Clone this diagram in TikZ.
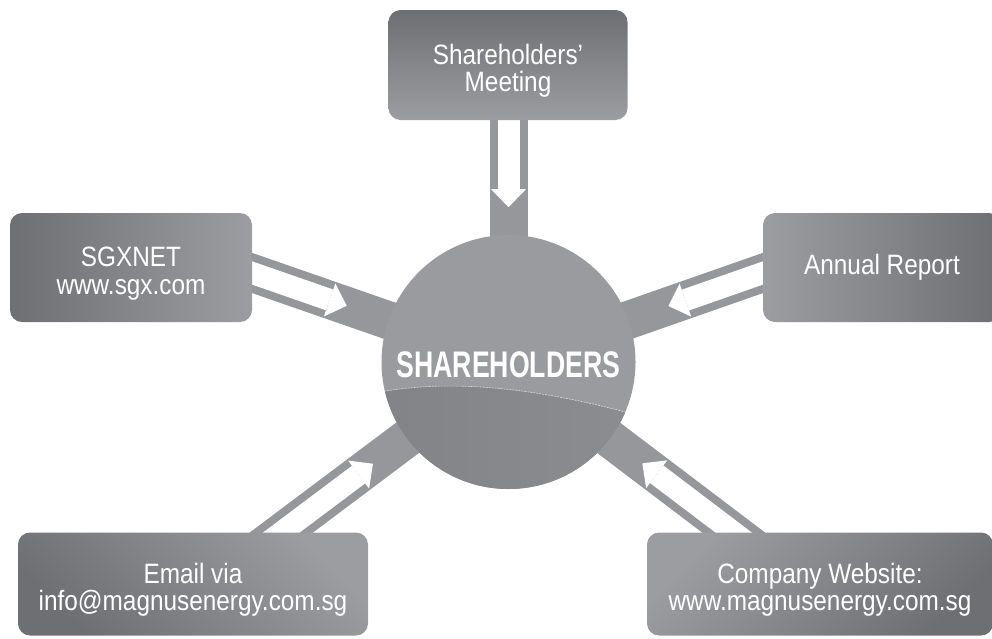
\documentclass[tikz,border=0pt]{standalone}
\usepackage{fontspec}
\setmainfont[FakeStretch=0.87]{Liberation Sans}
\newfontfamily\titlefont[FakeStretch=0.72]{Liberation Sans}
\usetikzlibrary{calc}

\definecolor{boxdark}{HTML}{6E6F73}
\definecolor{boxlight}{HTML}{9C9DA1}
\definecolor{bandgray}{HTML}{96979B}
\definecolor{discup}{HTML}{9A9B9F}
\definecolor{disclow}{HTML}{8C8D91}
\definecolor{disclowdark}{HTML}{828387}

\pgfdeclarelayer{bands}
\pgfdeclarelayer{inner}
\pgfsetlayers{bands,inner,main}

% strut that lowers two-line labels slightly inside their boxes
\newcommand\toplift{\rule{0pt}{32pt}}

\tikzset{
  infobox/.style={rounded corners=12pt, inner sep=0pt, align=center,
    text=white, font=\fontsize{28}{27.5}\selectfont},
  bandline/.style={draw=bandgray, line width=38pt, line cap=butt},
  shaftline/.style={draw=white, line width=22pt, line cap=butt},
}

\begin{document}
\begin{tikzpicture}[x=1pt,y=-1pt]
\useasboundingbox (0,0) rectangle (992,638);
\clip (0,0) rectangle (992,638);

% information channels
\node[infobox, minimum width=239pt, minimum height=110pt,
  top color=boxdark, bottom color=boxlight] (meet) at (508,65)
  {\toplift Shareholders’\\Meeting};
\node[infobox, minimum width=242pt, minimum height=109pt,
  left color=boxdark, right color=boxlight] (sgx) at (131,267.5)
  {\toplift SGXNET\\www.sgx.com};
\node[infobox, minimum width=238pt, minimum height=109pt,
  left color=boxlight, right color=boxdark] (annual) at (882,267.5) {Annual Report};
\node[infobox, minimum width=350pt, minimum height=103pt,
  top color=boxlight, bottom color=boxdark, shading angle=-45] (email) at (193,584)
  {\toplift Email via\\info@magnusenergy.com.sg};
\node[infobox, minimum width=346pt, minimum height=103pt,
  top color=boxlight, bottom color=boxdark, shading angle=45] (web) at (820,584)
  {\toplift Company Website:\\www.magnusenergy.com.sg};

% central disc
\node[circle, fill=discup, minimum size=254pt, inner sep=0pt] (hub) at (508.5,362) {};
\begin{scope}
  \clip (hub.center) circle[radius=127pt];
  \shade[left color=disclowdark, right color=disclow]
    (375,393) .. controls (450,378) and (540,388) .. (640,416)
    -- (640,495) -- (375,495) -- cycle;
  \draw[white, opacity=0.7, line width=0.6pt, dash pattern=on 2pt off 1pt]
    (375,393) .. controls (450,378) and (540,388) .. (640,416);
\end{scope}
\node[text=white, font=\titlefont\bfseries\fontsize{37}{37}\selectfont] (title)
  at (508.5,365) {SHAREHOLDERS};

% arrow roots on the box edges
\coordinate (aT) at ($(meet.south)+(0.5,0)$);
\coordinate (aL) at ($(sgx.east)+(0,5.5)$);
\coordinate (aR) at ($(annual.west)+(0,5.5)$);
\coordinate (aBL) at ($(email.north)+(88,0.5)$);
\coordinate (aBR) at ($(web.north)+(-86,0.5)$);

% gray bands with white hollow arrows towards the disc
\foreach \s/\d in {aT/69pt, aL/82pt, aR/82pt, aBL/97pt, aBR/97pt}{
  \begin{pgfonlayer}{bands}
    \draw[bandline] ($(\s)!-35pt!(hub.center)$) -- (hub.center);
  \end{pgfonlayer}
  \begin{pgfonlayer}{inner}
    \coordinate (hb) at ($(\s)!\d!(hub.center)$);
    \draw[shaftline] ($(\s)!-35pt!(hub.center)$) -- (hb);
    \fill[white] ($(hb)!17.5pt!90:(hub.center)$) -- ($(hb)!18pt!(hub.center)$)
      -- ($(hb)!17.5pt!-90:(hub.center)$) -- cycle;
  \end{pgfonlayer}
}
\end{tikzpicture}
\end{document}
